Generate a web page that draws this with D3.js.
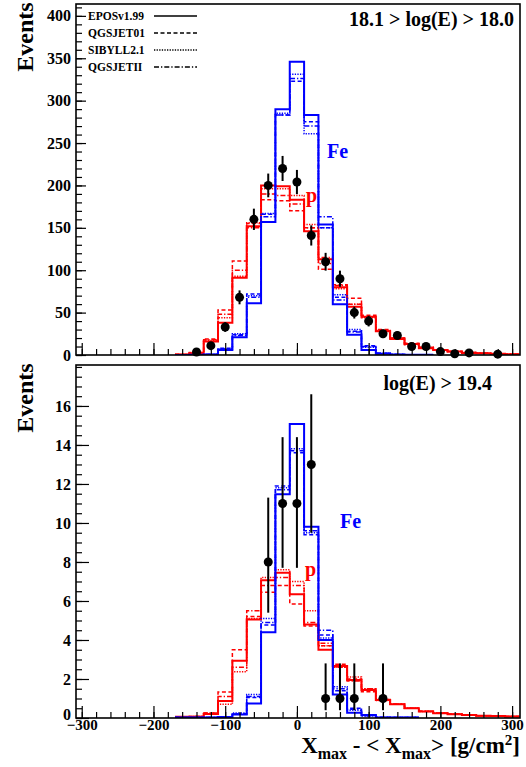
<!DOCTYPE html>
<html>
<head>
<meta charset="utf-8">
<script src="https://cdn.jsdelivr.net/npm/d3@7"></script>
<style>
  body { margin: 0; background: #fff; }
  svg text { font-family: "Liberation Serif", "Times New Roman", serif; font-weight: bold; }
</style>
</head>
<body>
<div id="chart"></div>
<script>
// bin centres (g/cm2), bins are 20 wide
var binCenters = [-160,-140,-120,-100,-80,-60,-40,-20,0,20,40,60,80,100,120,140,160,180,200,220,240,260,280,300];
var binWidth = 20;

// ---- top panel: 18.1 > log(E) > 18.0 ----
var topProtonEPOS   = [0.5,2,16,38,91,152,200,199,183,146,113,80,57,45,28,19,13,8,6,4,2.5,2,1.5,1];
var topProtonQGS01  = [0.5,3,19,53,111,155,183,182,170,150,101,83,67,47,30,20,14,9,6,4,3,2,1.5,1];
var topProtonSIB    = [0.5,2,17,44,93,156,196,196,188,154,108,78,60,44,29,20,12,9,6,4,3,2,1.5,1];
var topProtonQGSII  = [0.5,3,18,48,100,150,190,188,178,150,115,82,60,45,29,20,13,8,6,4,3,2,1.5,1];
var topIronEPOS     = [0,0.3,0.5,6,21,61,157,290,346,283,154,60,24,6,1.5,0.5,0.3,0.2,null,null,null,null,null,null];
var topIronQGS01    = [0,0.3,0.6,8,24,72,166,283,323,275,150,68,28,11,2,0.6,0.3,0.2,null,null,null,null,null,null];
var topIronSIB      = [0,0.3,0.5,7,25,70,167,285,331,261,150,71,30,9,2,0.5,0.3,0.2,null,null,null,null,null,null];
var topIronQGSII    = [0,0.3,0.6,7,23,68,163,283,326,270,163,65,27,10,2,0.5,0.3,0.2,null,null,null,null,null,null];

var topDataX   = [-140,-120,-100,-80,-60,-40,-20,0,20,40,60,80,100,120,140,160,180,200,220,240,280];
var topDataY   = [3.5,11,33,68,160,200,220,204,141,110,90,50,40,25,23,10,10,4,1.5,2.5,1];
var topDataErr = [2,3.3,5.7,8.2,12.6,14,14.8,14.3,11.9,10.5,9.5,7,6.3,5,4.8,3.2,3.2,2,1.2,1.6,1];

// ---- bottom panel: log(E) > 19.4 ----
var botProtonEPOS   = [0.07,0.07,0.2,0.87,2.94,5.05,7.06,7.45,6.35,4.8,3.5,2.67,1.95,1.44,0.92,0.71,0.5,0.33,0.24,0.19,0.15,0.12,0.1,0.08];
var botProtonQGS01  = [0.07,0.08,0.25,1.33,3.5,5.2,6.45,6.8,5.85,4.72,3.7,2.75,2.0,1.35,0.95,0.7,0.5,0.35,0.25,0.2,0.15,0.12,0.1,0.08];
var botProtonSIB    = [0.07,0.08,0.22,0.7,2.37,5.1,7.2,7.6,7.0,5.5,3.7,2.6,2.1,1.5,0.9,0.7,0.5,0.33,0.25,0.19,0.15,0.12,0.1,0.08];
var botProtonQGSII  = [0.07,0.08,0.25,1.1,2.6,5.5,6.8,7.2,6.8,4.9,3.83,2.6,1.9,1.5,0.95,0.72,0.5,0.35,0.24,0.2,0.15,0.12,0.1,0.08];
var botIronEPOS     = [0.02,0.02,0.02,0.05,0.18,0.74,4.4,11.47,15.08,9.81,4.0,1.2,0.27,0.15,0.03,0.02,0.02,null,null,null,null,null,null,null];
var botIronQGS01    = [0.02,0.02,0.03,0.06,0.2,1.05,4.77,11.9,13.6,9.4,4.26,1.4,0.5,0.15,0.04,0.02,0.02,null,null,null,null,null,null,null];
var botIronSIB      = [0.02,0.02,0.03,0.06,0.25,1.2,5.1,11.8,13.8,9.5,4.1,1.6,0.4,0.1,0.03,0.02,0.02,null,null,null,null,null,null,null];
var botIronQGSII    = [0.02,0.02,0.03,0.06,0.2,1.1,4.9,11.7,13.7,9.6,4.5,1.5,0.45,0.12,0.03,0.02,0.02,null,null,null,null,null,null,null];

var botDataX     = [-40,-20,0,20,40,60,80,120];
var botDataY     = [8,11,11,13,1,1,1,1];
var botDataErrLo = [2.6,3.3,3.3,3.5,0.6,0.6,0.6,0.6];
var botDataErrHi = [3.3,3.4,3.4,3.6,1.8,1.8,1.8,1.8];

var models = ["EPOSv1.99", "QGSJET01", "SIBYLL2.1", "QGSJETII"];
var modelDash = ["none", "4,2.5", "1.3,1.3", "5,2,1.3,2"];
var modelWidth = [2, 1.5, 1.5, 1.5];

var xTicks = [-300,-200,-100,0,100,200,300];
var topYTicks = [0,50,100,150,200,250,300,350,400];
var botYTicks = [0,2,4,6,8,10,12,14,16];

var W = 526, H = 767;
var left = 76, right = 520;
var topPanel = {y0: 4, y1: 355, max: 414};
var botPanel = {y0: 365, y1: 718, max: 18.1};

var svg = d3.select("#chart").append("svg")
    .attr("width", W)
    .attr("height", H);

var x = d3.scaleLinear().domain([-308, 311]).range([left, right]);

function drawPanel(p, hists, dataX, dataY, errLo, errHi, yTicks, yMinorStep, yMajorLen, showXLabels, title, titleX, titleY, feXY, pXY) {
    var y = d3.scaleLinear().domain([0, p.max]).range([p.y1, p.y0]);
    var g = svg.append("g");

    var clip = "clip" + p.y0;
    g.append("clipPath").attr("id", clip)
        .append("rect")
        .attr("x", left).attr("y", p.y0)
        .attr("width", right - left).attr("height", p.y1 - p.y0);

    // histograms
    var line = d3.line()
        .x(function(d){ return x(d[0]); })
        .y(function(d){ return y(d[1]); });

    var hg = g.append("g").attr("clip-path", "url(#" + clip + ")");
    hists.forEach(function(h){
        var pts = [];
        h.values.forEach(function(v, i){
            if (v === null) return;
            pts.push([binCenters[i] - binWidth/2, v]);
            pts.push([binCenters[i] + binWidth/2, v]);
        });
        hg.append("path")
            .attr("d", line(pts))
            .attr("fill", "none")
            .attr("stroke", h.color)
            .attr("stroke-width", modelWidth[h.model])
            .attr("stroke-dasharray", modelDash[h.model]);
    });

    // data points
    var pts = g.append("g");
    dataX.forEach(function(dx, i){
        pts.append("line")
            .attr("x1", x(dx)).attr("x2", x(dx))
            .attr("y1", y(Math.max(0, dataY[i] - errLo[i])))
            .attr("y2", y(dataY[i] + errHi[i]))
            .attr("stroke", "#000")
            .attr("stroke-width", 2);
        pts.append("circle")
            .attr("cx", x(dx)).attr("cy", y(dataY[i]))
            .attr("r", 4.5)
            .attr("fill", "#000");
    });

    // axes (ticks drawn inward)
    var yMinor = d3.range(0, p.max, yMinorStep);
    g.append("g")
        .attr("transform", "translate(" + left + ",0)")
        .call(d3.axisLeft(y).tickValues(yMinor).tickSize(-6).tickFormat(""))
        .call(function(s){ s.select(".domain").remove(); });
    var ya = g.append("g")
        .attr("transform", "translate(" + left + ",0)")
        .call(d3.axisLeft(y).tickValues(yTicks).tickSize(-yMajorLen).tickPadding(5).tickFormat(d3.format("d")));
    ya.select(".domain").remove();
    ya.selectAll("text").style("font-size", "16px").attr("fill", "#000");
    // the zero label sits just above the x labels in the lower panel
    if (showXLabels) ya.selectAll("text").filter(function(d){ return d === 0; }).attr("dy", "0.1em");

    var xMinor = d3.range(-300, 311, 20);
    g.append("g")
        .attr("transform", "translate(0," + p.y1 + ")")
        .call(d3.axisBottom(x).tickValues(xMinor).tickSize(-6).tickFormat(""))
        .call(function(s){ s.select(".domain").remove(); });
    var xa = g.append("g")
        .attr("transform", "translate(0," + p.y1 + ")")
        .call(d3.axisBottom(x).tickValues(xTicks).tickSize(-12).tickPadding(1)
              .tickFormat(showXLabels ? d3.format("d") : ""));
    xa.select(".domain").remove();
    xa.selectAll("text").style("font-size", "15px").attr("fill", "#000");
    g.selectAll(".tick line").attr("stroke", "#000").attr("stroke-width", 1.2);

    // frame
    g.append("rect")
        .attr("x", left).attr("y", p.y0)
        .attr("width", right - left).attr("height", p.y1 - p.y0)
        .attr("fill", "none")
        .attr("stroke", "#000")
        .attr("stroke-width", 1.6);

    g.append("text")
        .attr("x", titleX).attr("y", titleY)
        .attr("text-anchor", "end")
        .style("font-size", "20px")
        .text(title);

    g.append("text")
        .attr("x", feXY[0]).attr("y", feXY[1])
        .attr("fill", "#0000ff")
        .style("font-size", "20px")
        .text("Fe");
    g.append("text")
        .attr("x", pXY[0]).attr("y", pXY[1])
        .attr("fill", "#ff0000")
        .style("font-size", "20px")
        .text("p");

    g.append("text")
        .attr("transform", "translate(33," + ((p.y0 + 33)) + ") rotate(-90)")
        .attr("text-anchor", "middle")
        .style("font-size", "24px")
        .text("Events");
    return y;
}

function histSet(p, values) {
    var out = [];
    values.forEach(function(v, i){
        out.push({values: v, model: i % 4, color: i < 4 ? "#ff0000" : "#0000ff"});
    });
    return out;
}

drawPanel(topPanel,
    histSet(topPanel, [topProtonEPOS, topProtonQGS01, topProtonSIB, topProtonQGSII,
                       topIronEPOS, topIronQGS01, topIronSIB, topIronQGSII]),
    topDataX, topDataY, topDataErr, topDataErr,
    topYTicks, 10, 10, false, "18.1 > log(E) > 18.0", 514, 26, [327, 158], [306, 202]);

drawPanel(botPanel,
    histSet(botPanel, [botProtonEPOS, botProtonQGS01, botProtonSIB, botProtonQGSII,
                       botIronEPOS, botIronQGS01, botIronSIB, botIronQGSII]),
    botDataX, botDataY, botDataErrLo, botDataErrHi,
    botYTicks, 0.5, 13, true, "log(E) > 19.4", 492, 390, [340, 528], [305, 576]);

// legend
var legend = svg.append("g");
models.forEach(function(m, i){
    var ly = 16 + i * 17;
    legend.append("text")
        .attr("x", 88).attr("y", ly + 4)
        .style("font-size", "11.5px")
        .text(m);
    legend.append("line")
        .attr("x1", 154).attr("x2", 197)
        .attr("y1", ly).attr("y2", ly)
        .attr("stroke", "#000")
        .attr("stroke-width", modelWidth[i] === 2 ? 1.6 : 1.3)
        .attr("stroke-dasharray", modelDash[i]);
});

// x axis title
var xt = svg.append("text")
    .attr("x", 520).attr("y", 753)
    .attr("text-anchor", "end")
    .style("font-size", "23px");
xt.append("tspan").text("X");
xt.append("tspan").attr("dy", 6).style("font-size", "16px").text("max");
xt.append("tspan").attr("dy", -6).text(" - < X");
xt.append("tspan").attr("dy", 6).style("font-size", "16px").text("max");
xt.append("tspan").attr("dy", -6).text("> [g/cm");
xt.append("tspan").attr("dy", -8).style("font-size", "15px").text("2");
xt.append("tspan").attr("dy", 8).text("]");
</script>
</body>
</html>
